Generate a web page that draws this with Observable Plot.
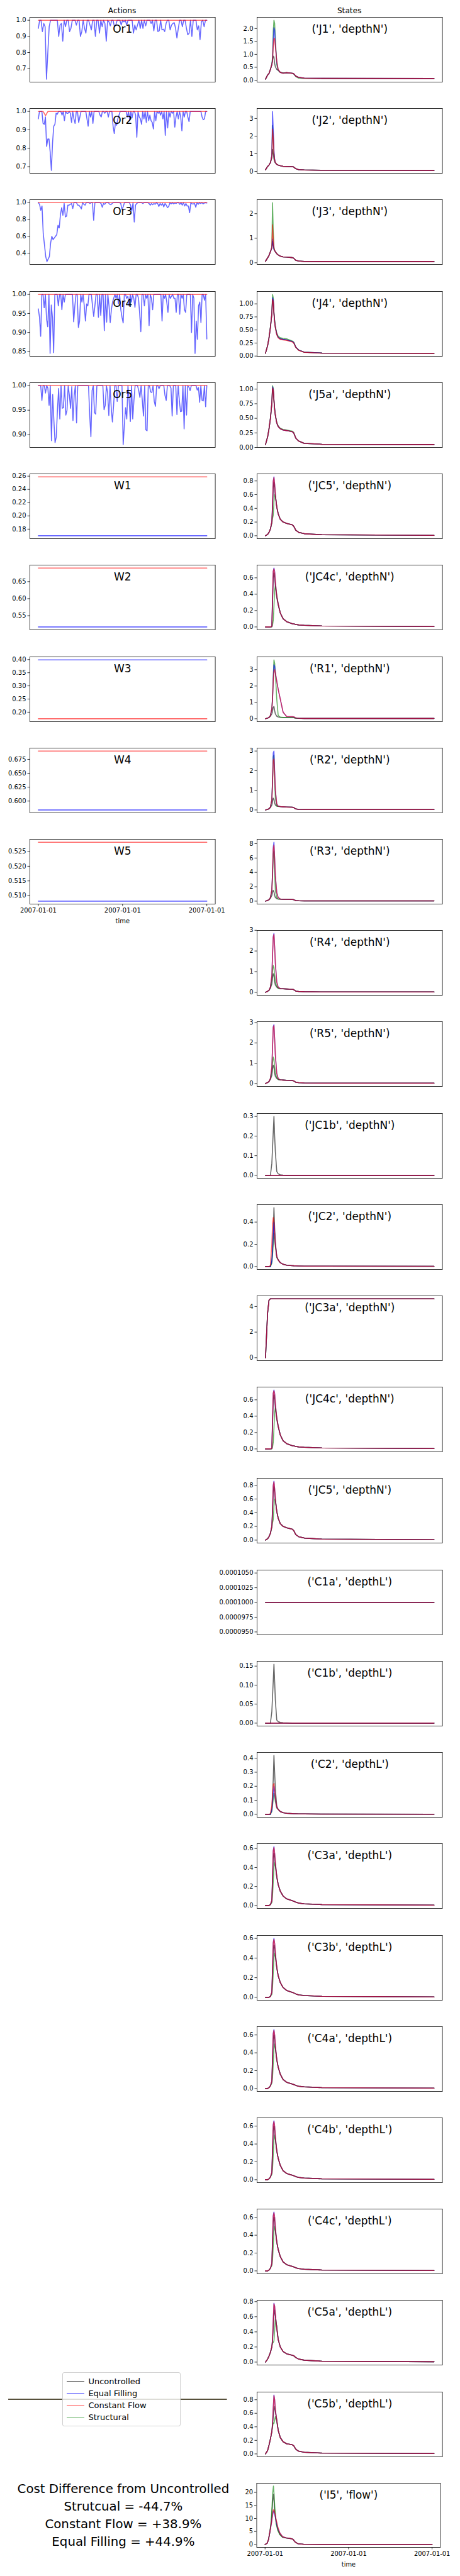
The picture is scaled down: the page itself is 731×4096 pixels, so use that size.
<!DOCTYPE html>
<html><head><meta charset="utf-8">
<script src="https://cdn.jsdelivr.net/npm/d3@7"></script>
<script src="https://cdn.jsdelivr.net/npm/@observablehq/plot@0.6"></script>
<style>
body{margin:0;background:#fff;}
#root{position:relative;width:731px;height:4096px;font-family:"DejaVu Sans",sans-serif;color:#000;overflow:hidden;}
.cell{position:absolute;}
.ttl{position:absolute;font-size:12.2px;transform:translate(-50%,-50%);white-space:nowrap;}
.legend{position:absolute;border:0.8px solid #d0d0d0;border-radius:3px;background:rgba(255,255,255,0.8);box-sizing:border-box;}
.legend .row{display:flex;align-items:center;white-space:nowrap;}
.legend .sw{display:inline-block;height:0;border-top:1.5px solid;margin-right:6px;}
.cost{position:absolute;text-align:center;white-space:nowrap;transform:translateX(-50%);}
</style></head><body><div id="root"></div>
<script>
// ---------------- data ----------------
const STEP_END = 239;
const stateT = [0,3,5,7,9,10,11,12,13,14,16,18,21,25,30,38,40,43,47,55,80,239];
const xTickSteps = [0, 119.5, 239];
const xTickLabels = ["2007-01-01","2007-01-01","2007-01-01"];
const seriesNames = ["Uncontrolled","Equal Filling","Constant Flow","Structural"];
const seriesColors = ["#000000","#0000ff","#ff0000","#008000"];
const drawOrder = [0,3,1,2];
const legendLineOrder = [0,1,2,3];
const costLines = ["Cost Difference from Uncontrolled","Strutcual = -44.7%","Constant Flow = +38.9%","Equal Filling = +44.9%"];

const actionLabels = ["Or1","Or2","Or3","Or4","Or5","W1","W2","W3","W4","W5"];
const actionTicks = [
 ["0.7","0.8","0.9","1.0"],["0.7","0.8","0.9","1.0"],["0.4","0.6","0.8","1.0"],
 ["0.85","0.90","0.95","1.00"],["0.90","0.95","1.00"],
 ["0.18","0.20","0.22","0.24","0.26"],["0.55","0.60","0.65"],
 ["0.20","0.25","0.30","0.35","0.40"],["0.600","0.625","0.650","0.675"],
 ["0.510","0.515","0.520","0.525"]];

const Or1_eq = [0.95,1.0,1.0,0.93,0.98,0.96,0.635,0.80,0.96,1.0,1.0,1.0,1.0,1.0,1.0,0.90,0.97,0.98,0.87,1.0,0.96,1.0,1.0,0.93,0.95,1.0,1.0,1.0,0.97,1.0,1.0,0.90,0.93,1.0,0.95,0.92,1.0,1.0,0.97,0.94,1.0,1.0,0.90,1.0,1.0,0.92,1.0,0.96,1.0,0.98,0.87,1.0,0.99,0.965,1.0,1.0,0.96,0.97,1.0,1.0,1.0,0.97,1.0,0.99,1.0,0.97,1.0,1.0,1.0,1.0,0.92,0.97,0.94,0.97,1.0,0.95,1.0,0.95,1.0,0.965,1.0,1.0,1.0,0.98,1.0,0.935,1.0,1.0,0.93,0.935,1.0,0.94,0.945,0.93,0.98,1.0,1.0,0.94,0.97,0.98,0.985,0.95,0.89,0.95,1.0,1.0,0.96,1.0,1.0,0.95,0.91,0.92,1.0,0.90,1.0,1.0,1.0,0.94,0.965,0.88,0.99,1.0,0.96,1.0,1.0];
const Or1_cf = [1.0,1.0];
const Or2_eq = [0.96,1.0,1.0,1.0,0.935,0.93,0.97,0.81,0.85,0.85,0.78,0.68,0.83,0.92,0.93,0.99,0.985,1.0,1.0,1.0,0.98,1.0,0.95,1.0,0.99,0.99,1.0,0.99,0.94,1.0,0.96,0.935,1.0,1.0,0.94,0.97,1.0,1.0,1.0,1.0,1.0,0.96,0.92,1.0,0.97,1.0,0.935,1.0,1.0,1.0,1.0,1.0,0.98,0.97,1.0,1.0,0.99,1.0,1.0,0.97,1.0,1.0,1.0,0.92,0.88,0.94,0.925,0.96,0.98,1.0,1.0,1.0,1.0,1.0,1.0,0.97,1.0,0.95,1.0,0.965,1.0,1.0,0.98,0.86,1.0,0.97,0.96,0.93,1.0,0.96,1.0,0.94,1.0,0.95,0.98,0.95,0.94,0.905,1.0,0.95,1.0,0.99,1.0,0.98,1.0,0.96,1.0,0.87,1.0,0.91,1.0,0.97,1.0,0.99,1.0,0.915,0.97,1.0,0.96,1.0,0.97,0.895,1.0,0.97,1.0,1.0,0.97,0.945,1.0,1.0,1.0,1.0,1.0,1.0,1.0,1.0,1.0,1.0,0.97,0.955,0.96,1.0,1.0];
const Or2_cf = [1.0,1.0,1.0,0.977,1.0,1.0,1.0,1.0,1.0,1.0,1.0,1.0,1.0,1.0,1.0,1.0,1.0,1.0,1.0,1.0,1.0,1.0,1.0,1.0,1.0,1.0,1.0,1.0,1.0,1.0,1.0,1.0,1.0,1.0,1.0,1.0,1.0,1.0,1.0,1.0,1.0,1.0,1.0,1.0,1.0,1.0,1.0,1.0,1.0,1.0,1.0,1.0,1.0,1.0,1.0,1.0,1.0,1.0,1.0,1.0,1.0,1.0,1.0,1.0,1.0,1.0,1.0,1.0,1.0,1.0,1.0];
const Or3_eq = [1.0,0.98,0.91,0.96,0.63,0.50,0.36,0.30,0.33,0.36,0.52,0.60,0.56,0.58,0.60,0.62,0.73,0.70,0.86,0.94,0.85,0.99,0.83,0.84,0.97,0.97,0.98,0.99,0.93,1.0,1.0,1.0,0.97,0.97,0.95,0.925,1.0,0.98,0.97,1.0,1.0,1.0,0.99,1.0,1.0,0.79,1.0,1.0,1.0,1.0,1.0,0.99,0.945,0.99,0.98,1.0,1.0,1.0,0.98,0.975,0.99,1.0,1.0,1.0,1.0,1.0,1.0,0.99,0.92,0.95,1.0,1.0,1.0,1.0,1.0,0.97,0.90,1.0,0.77,0.97,0.99,1.0,1.0,1.0,1.0,0.99,1.0,1.0,1.0,1.0,0.99,0.97,0.99,0.975,0.99,0.98,1.0,0.99,0.955,0.99,0.97,0.99,0.95,0.99,0.97,0.94,0.955,1.0,0.985,1.0,0.985,0.995,0.99,1.0,1.0,0.98,1.0,0.97,1.0,0.96,0.99,0.96,0.96,0.88,1.0,0.985,0.985,0.99,0.945,1.0,0.98,1.0,0.99,1.0,0.985,0.995,1.0,0.995];
const Or3_cf = [1.0,1.0];
const Or4_eq = [0.962,0.94,0.89,1.0,1.0,0.965,1.0,0.935,0.915,1.0,0.845,0.972,0.94,0.847,1.0,1.0,1.0,0.97,1.0,1.0,0.96,1.0,0.98,1.0,1.0,1.0,1.0,1.0,1.0,1.0,0.928,0.97,1.0,1.0,0.913,0.93,1.0,0.98,1.0,0.97,0.93,0.975,0.97,1.0,1.0,1.0,0.97,0.942,0.97,1.0,1.0,0.94,1.0,0.945,1.0,1.0,0.905,1.0,0.927,1.0,0.97,0.926,0.96,0.98,0.99,1.0,0.99,1.0,0.975,1.0,0.96,0.94,0.925,1.0,1.0,0.99,0.995,0.97,1.0,0.98,1.0,0.99,0.966,1.0,1.0,0.99,0.95,0.902,1.0,1.0,0.97,1.0,0.99,1.0,0.918,1.0,0.99,0.96,1.0,1.0,1.0,1.0,1.0,1.0,1.0,0.93,1.0,0.99,1.0,0.98,0.953,1.0,0.99,0.995,1.0,0.99,0.99,0.953,1.0,1.0,0.948,1.0,0.99,1.0,0.96,0.953,1.0,1.0,1.0,1.0,0.90,1.0,0.99,0.845,0.93,0.882,0.97,0.98,0.926,1.0,1.0,0.985,1.0,0.883];
const Or4_cf = [1.0,1.0];
const Or5_eq = [1.0,1.0,1.0,0.97,1.0,1.0,0.985,1.0,0.995,0.96,1.0,0.888,0.982,0.93,0.884,0.895,0.95,0.994,0.932,1.0,0.954,0.955,1.0,0.94,0.95,1.0,0.98,0.954,0.998,0.929,0.98,1.0,0.924,1.0,1.0,1.0,1.0,1.0,1.0,1.0,1.0,1.0,1.0,0.94,0.896,0.99,1.0,0.945,0.942,1.0,1.0,1.0,1.0,1.0,1.0,0.951,0.96,1.0,0.985,0.939,1.0,0.955,0.926,0.96,1.0,1.0,0.968,1.0,1.0,1.0,1.0,0.88,0.92,0.955,0.932,1.0,0.97,0.927,1.0,0.932,0.97,1.0,1.0,1.0,0.99,0.976,1.0,0.97,0.938,1.0,0.91,0.908,1.0,1.0,0.987,0.986,1.0,0.968,0.958,1.0,1.0,0.994,1.0,1.0,1.0,1.0,0.98,0.97,1.0,1.0,1.0,0.995,0.938,1.0,1.0,1.0,0.941,1.0,0.97,0.947,0.948,1.0,0.912,1.0,0.94,1.0,0.997,0.99,1.0,1.0,1.0,1.0,1.0,0.991,0.996,0.966,1.0,0.97,0.969,1.0,0.957,1.0];
const Or5_cf = [1.0,1.0];
const W1_eq = [0.170,0.170], W1_cf = [0.259,0.259];
const W2_eq = [0.517,0.517], W2_cf = [0.690,0.690];
const W3_eq = [0.399,0.399], W3_cf = [0.175,0.175];
const W4_eq = [0.584,0.584], W4_cf = [0.690,0.690];
const W5_eq = [0.5081,0.5081], W5_cf = [0.5282,0.5282];
const actionEq = [Or1_eq,Or2_eq,Or3_eq,Or4_eq,Or5_eq,W1_eq,W2_eq,W3_eq,W4_eq,W5_eq];
const actionCf = [Or1_cf,Or2_cf,Or3_cf,Or4_cf,Or5_cf,W1_cf,W2_cf,W3_cf,W4_cf,W5_cf];

const stateLabels = ["('J1', 'depthN')","('J2', 'depthN')","('J3', 'depthN')","('J4', 'depthN')","('J5a', 'depthN')","('JC5', 'depthN')","('JC4c', 'depthN')","('R1', 'depthN')","('R2', 'depthN')","('R3', 'depthN')","('R4', 'depthN')","('R5', 'depthN')","('JC1b', 'depthN')","('JC2', 'depthN')","('JC3a', 'depthN')","('JC4c', 'depthN')","('JC5', 'depthN')","('C1a', 'depthL')","('C1b', 'depthL')","('C2', 'depthL')","('C3a', 'depthL')","('C3b', 'depthL')","('C4a', 'depthL')","('C4b', 'depthL')","('C4c', 'depthL')","('C5a', 'depthL')","('C5b', 'depthL')","('I5', 'flow')"];
const stateTicks = [
 ["0.0","0.5","1.0","1.5","2.0"],["0","1","2","3"],["0","1","2"],["0.00","0.25","0.50","0.75","1.00"],
 ["0.00","0.25","0.50","0.75","1.00"],["0.0","0.2","0.4","0.6","0.8"],["0.0","0.2","0.4","0.6"],["0","1","2","3"],
 ["0","1","2","3"],["0","2","4","6","8"],["0","1","2","3"],["0","1","2","3"],
 ["0.0","0.1","0.2","0.3"],["0.0","0.2","0.4"],["0","2","4"],["0.0","0.2","0.4","0.6"],
 ["0.0","0.2","0.4","0.6","0.8"],["0.0000950","0.0000975","0.0001000","0.0001025","0.0001050"],["0.00","0.05","0.10","0.15"],["0.0","0.1","0.2","0.3","0.4"],
 ["0.0","0.2","0.4","0.6"],["0.0","0.2","0.4","0.6"],["0.0","0.2","0.4","0.6"],["0.0","0.2","0.4","0.6"],
 ["0.0","0.2","0.4","0.6"],["0.0","0.2","0.4","0.6","0.8"],["0.0","0.2","0.4","0.6","0.8"],["0","5","10","15","20"]];

// each state: [Uncontrolled, Equal Filling, Constant Flow, Structural] at stateT (or [start,end] if 2 values)
const J1 = [
 [0.04,0.2,0.26,0.42,0.6,0.75,0.93,0.9,0.65,0.52,0.42,0.38,0.31,0.28,0.29,0.27,0.25,0.16,0.11,0.08,0.07,0.065],
 [0.04,0.2,0.26,0.42,0.6,0.8,1.5,2.03,1.95,1.4,0.7,0.4,0.3,0.27,0.29,0.27,0.25,0.16,0.11,0.08,0.07,0.065],
 [0.04,0.2,0.26,0.42,0.6,0.75,1.3,1.6,1.62,1.3,0.75,0.42,0.3,0.27,0.29,0.27,0.25,0.16,0.11,0.08,0.07,0.065],
 [0.04,0.2,0.26,0.42,0.62,0.9,1.9,2.32,2.2,1.6,0.6,0.38,0.3,0.28,0.29,0.27,0.24,0.14,0.08,0.07,0.065,0.06]];
const J2 = [
 [0.09,0.28,0.37,0.5,0.75,1.25,1.0,0.7,0.55,0.48,0.4,0.36,0.32,0.29,0.28,0.27,0.25,0.15,0.1,0.08,0.065,0.06],
 [0.09,0.28,0.37,0.5,0.9,3.4,2.4,1.2,0.7,0.5,0.4,0.36,0.32,0.29,0.28,0.27,0.25,0.15,0.1,0.08,0.065,0.06],
 [0.09,0.28,0.37,0.5,0.85,2.4,1.9,1.0,0.65,0.5,0.4,0.36,0.32,0.29,0.28,0.27,0.25,0.15,0.1,0.08,0.065,0.06],
 [0.09,0.28,0.37,0.5,0.9,2.6,2.0,1.0,0.65,0.5,0.4,0.36,0.32,0.29,0.28,0.27,0.25,0.15,0.1,0.08,0.065,0.06]];
const J3 = [
 [0.06,0.2,0.3,0.45,0.6,0.88,0.7,0.55,0.5,0.45,0.37,0.32,0.27,0.24,0.23,0.21,0.19,0.1,0.07,0.055,0.05,0.05],
 [0.06,0.2,0.3,0.45,0.6,0.97,0.75,0.55,0.5,0.45,0.37,0.32,0.27,0.24,0.23,0.21,0.19,0.1,0.07,0.055,0.05,0.05],
 [0.06,0.2,0.3,0.45,0.62,1.55,0.95,0.6,0.5,0.45,0.37,0.32,0.27,0.24,0.23,0.21,0.19,0.1,0.07,0.055,0.05,0.05],
 [0.06,0.2,0.3,0.45,0.65,2.45,1.3,0.65,0.5,0.45,0.37,0.32,0.27,0.24,0.23,0.21,0.19,0.1,0.07,0.055,0.05,0.05]];
const J4 = [
 [0.055,0.2,0.35,0.55,0.8,1.08,1.05,0.82,0.66,0.55,0.42,0.36,0.33,0.32,0.31,0.28,0.26,0.17,0.115,0.075,0.058,0.053],
 [0.055,0.2,0.35,0.55,0.8,1.12,1.08,0.83,0.66,0.55,0.42,0.36,0.33,0.32,0.31,0.28,0.26,0.17,0.115,0.075,0.058,0.053],
 [0.055,0.2,0.35,0.55,0.8,1.09,1.04,0.81,0.65,0.54,0.41,0.35,0.32,0.31,0.3,0.27,0.25,0.165,0.11,0.072,0.056,0.052],
 [0.055,0.2,0.35,0.56,0.82,1.18,1.12,0.85,0.68,0.57,0.44,0.38,0.35,0.34,0.33,0.29,0.27,0.17,0.115,0.075,0.058,0.053]];
const J5a = [
 [0.05,0.18,0.32,0.5,0.75,1.0,0.98,0.8,0.65,0.55,0.42,0.36,0.32,0.3,0.29,0.27,0.25,0.16,0.11,0.07,0.055,0.05],
 [0.05,0.18,0.32,0.5,0.75,1.04,1.0,0.82,0.66,0.55,0.42,0.36,0.32,0.3,0.29,0.27,0.25,0.16,0.11,0.07,0.055,0.05],
 [0.05,0.18,0.32,0.5,0.75,1.02,0.99,0.81,0.65,0.55,0.42,0.36,0.32,0.3,0.29,0.27,0.25,0.16,0.11,0.07,0.055,0.05],
 [0.05,0.18,0.32,0.5,0.76,1.06,1.02,0.82,0.66,0.56,0.43,0.37,0.33,0.31,0.3,0.28,0.26,0.16,0.11,0.07,0.055,0.05]];
const JC5 = [
 [0,0.02,0.05,0.1,0.2,0.4,0.7,0.78,0.7,0.58,0.42,0.32,0.24,0.2,0.18,0.16,0.14,0.08,0.05,0.03,0.015,0.005],
 [0,0.02,0.05,0.1,0.2,0.45,0.8,0.86,0.75,0.6,0.42,0.32,0.24,0.2,0.18,0.16,0.14,0.08,0.05,0.03,0.015,0.005],
 [0,0.02,0.05,0.1,0.2,0.45,0.79,0.85,0.75,0.6,0.42,0.32,0.24,0.2,0.18,0.16,0.14,0.08,0.05,0.03,0.015,0.005],
 [0,0.02,0.05,0.1,0.18,0.25,0.3,0.5,0.6,0.58,0.42,0.32,0.24,0.2,0.18,0.16,0.14,0.08,0.05,0.03,0.015,0.005]];
const JC4c = [
 [0,0,0,0,0.005,0.3,0.6,0.66,0.6,0.5,0.36,0.27,0.17,0.1,0.065,0.04,0.037,0.03,0.025,0.02,0.012,0.005],
 [0,0,0,0,0.005,0.35,0.68,0.72,0.68,0.55,0.38,0.28,0.17,0.1,0.065,0.04,0.037,0.03,0.025,0.02,0.012,0.005],
 [0,0,0,0,0.005,0.35,0.68,0.71,0.67,0.55,0.38,0.28,0.17,0.1,0.065,0.04,0.037,0.03,0.025,0.02,0.012,0.005],
 [0,0,0,0,0,0.02,0.08,0.25,0.45,0.5,0.38,0.28,0.17,0.1,0.065,0.04,0.037,0.03,0.025,0.02,0.012,0.005]];
const R1 = [
 [0,0.04,0.08,0.15,0.3,0.45,0.7,0.75,0.5,0.3,0.15,0.11,0.09,0.08,0.08,0.07,0.06,0.03,0.025,0.02,0.02,0.02],
 [0,0.04,0.08,0.2,0.6,1.2,2.4,3.3,3.2,2.8,2.3,1.8,1.2,0.4,0.14,0.13,0.12,0.05,0.03,0.02,0.02,0.02],
 [0,0.04,0.08,0.2,0.6,1.2,2.3,2.9,3.0,2.8,2.3,1.8,1.2,0.4,0.14,0.13,0.12,0.05,0.03,0.02,0.02,0.02],
 [0,0.04,0.08,0.2,0.6,1.3,2.6,3.6,3.4,2.8,1.2,0.2,0.1,0.08,0.08,0.07,0.06,0.03,0.025,0.02,0.02,0.02]];
const R2 = [
 [0,0.03,0.06,0.12,0.25,0.4,0.6,0.55,0.35,0.25,0.2,0.18,0.17,0.16,0.15,0.14,0.12,0.05,0.03,0.02,0.02,0.02],
 [0,0.03,0.06,0.15,0.5,1.5,2.9,3.0,2.0,1.0,0.3,0.2,0.17,0.16,0.15,0.14,0.12,0.05,0.03,0.02,0.02,0.02],
 [0,0.03,0.06,0.15,0.5,1.4,2.5,2.6,1.9,1.0,0.3,0.2,0.17,0.16,0.15,0.14,0.12,0.05,0.03,0.02,0.02,0.02],
 [0,0.03,0.06,0.15,0.5,1.5,2.7,2.8,1.5,0.6,0.2,0.18,0.17,0.16,0.15,0.14,0.12,0.05,0.03,0.02,0.02,0.02]];
const R3 = [
 [0,0.1,0.2,0.4,0.8,1.2,1.5,1.3,0.8,0.5,0.35,0.3,0.28,0.26,0.25,0.23,0.2,0.08,0.05,0.03,0.03,0.03],
 [0,0.1,0.2,0.5,1.5,4.0,7.5,8.2,6.0,3.5,1.2,0.5,0.3,0.26,0.25,0.23,0.2,0.08,0.05,0.03,0.03,0.03],
 [0,0.1,0.2,0.5,1.5,4.0,7.2,7.8,6.0,3.5,1.2,0.5,0.3,0.26,0.25,0.23,0.2,0.08,0.05,0.03,0.03,0.03],
 [0,0.1,0.2,0.5,1.5,3.5,6.5,7.0,4.0,1.5,0.5,0.3,0.28,0.26,0.25,0.23,0.2,0.08,0.05,0.03,0.03,0.03]];
const R4 = [
 [0,0.05,0.1,0.2,0.4,0.7,0.9,0.8,0.5,0.35,0.25,0.2,0.18,0.17,0.16,0.15,0.13,0.06,0.04,0.03,0.02,0.02],
 [0,0.05,0.1,0.25,0.8,1.8,2.7,2.85,2.2,1.4,0.5,0.25,0.18,0.17,0.16,0.15,0.13,0.06,0.04,0.03,0.02,0.02],
 [0,0.05,0.1,0.25,0.8,1.8,2.65,2.8,2.2,1.4,0.5,0.25,0.18,0.17,0.16,0.15,0.13,0.06,0.04,0.03,0.02,0.02],
 [0,0.05,0.1,0.25,0.6,1.0,1.3,1.2,0.8,0.5,0.3,0.2,0.18,0.17,0.16,0.15,0.13,0.06,0.04,0.03,0.02,0.02]];
const R5 = [
 [0,0.05,0.1,0.2,0.4,0.7,0.9,0.8,0.5,0.35,0.25,0.2,0.18,0.17,0.16,0.15,0.13,0.06,0.04,0.03,0.02,0.02],
 [0,0.05,0.1,0.25,0.8,1.8,2.8,2.9,2.2,1.4,0.5,0.25,0.18,0.17,0.16,0.15,0.13,0.06,0.04,0.03,0.02,0.02],
 [0,0.05,0.1,0.25,0.8,1.8,2.75,2.85,2.2,1.4,0.5,0.25,0.18,0.17,0.16,0.15,0.13,0.06,0.04,0.03,0.02,0.02],
 [0,0.05,0.1,0.25,0.6,1.0,1.3,1.2,0.8,0.5,0.3,0.2,0.18,0.17,0.16,0.15,0.13,0.06,0.04,0.03,0.02,0.02]];
const JC1b = [
 [0,0,0,0,0.06,0.14,0.22,0.30,0.2,0.12,0.02,0.008,0.003,0.001,0,0,0,0,0,0,0,0],
 [0,0],[0,0],[0,0]];
const JC2 = [
 [0,0,0,0,0.05,0.15,0.3,0.53,0.35,0.22,0.09,0.06,0.035,0.02,0.012,0.008,0.007,0.006,0.005,0.004,0.003,0.002],
 [0,0,0,0,0.05,0.15,0.28,0.4,0.3,0.2,0.09,0.06,0.035,0.02,0.012,0.008,0.007,0.006,0.005,0.004,0.003,0.002],
 [0,0,0,0.01,0.2,0.38,0.44,0.4,0.3,0.2,0.09,0.06,0.035,0.02,0.012,0.008,0.007,0.006,0.005,0.004,0.003,0.002],
 [0,0,0,0,0.03,0.1,0.2,0.3,0.25,0.18,0.08,0.06,0.035,0.02,0.012,0.008,0.007,0.006,0.005,0.004,0.003,0.002]];
const JC3a = [
 [0,3.5,4.5,4.6,4.6,4.6,4.6,4.6,4.6,4.6,4.6,4.6,4.6,4.6,4.6,4.6,4.6,4.6,4.6,4.6,4.6,4.6],
 [0,3.5,4.5,4.6,4.6,4.6,4.6,4.6,4.6,4.6,4.6,4.6,4.6,4.6,4.6,4.6,4.6,4.6,4.6,4.6,4.6,4.6],
 [0,3.5,4.5,4.6,4.6,4.6,4.6,4.6,4.6,4.6,4.6,4.6,4.6,4.6,4.6,4.6,4.6,4.6,4.6,4.6,4.6,4.6],
 [0,3.5,4.5,4.6,4.6,4.6,4.6,4.6,4.6,4.6,4.6,4.6,4.6,4.6,4.6,4.6,4.6,4.6,4.6,4.6,4.6,4.6]];
const JC4c_b = [
 [0,0,0,0,0.005,0.3,0.6,0.66,0.6,0.5,0.36,0.27,0.17,0.1,0.065,0.04,0.037,0.03,0.025,0.02,0.012,0.005],
 [0,0,0,0,0.005,0.35,0.68,0.72,0.68,0.55,0.38,0.28,0.17,0.1,0.065,0.04,0.037,0.03,0.025,0.02,0.012,0.005],
 [0,0,0,0,0.005,0.35,0.68,0.71,0.67,0.55,0.38,0.28,0.17,0.1,0.065,0.04,0.037,0.03,0.025,0.02,0.012,0.005],
 [0,0,0,0,0,0.02,0.08,0.25,0.45,0.5,0.38,0.28,0.17,0.1,0.065,0.04,0.037,0.03,0.025,0.02,0.012,0.005]];
const JC5_b = [
 [0,0.02,0.05,0.1,0.2,0.4,0.7,0.78,0.7,0.58,0.42,0.32,0.24,0.2,0.18,0.16,0.14,0.08,0.05,0.03,0.015,0.005],
 [0,0.02,0.05,0.1,0.2,0.45,0.8,0.86,0.75,0.6,0.42,0.32,0.24,0.2,0.18,0.16,0.14,0.08,0.05,0.03,0.015,0.005],
 [0,0.02,0.05,0.1,0.2,0.45,0.79,0.85,0.75,0.6,0.42,0.32,0.24,0.2,0.18,0.16,0.14,0.08,0.05,0.03,0.015,0.005],
 [0,0.02,0.05,0.1,0.18,0.25,0.3,0.5,0.6,0.58,0.42,0.32,0.24,0.2,0.18,0.16,0.14,0.08,0.05,0.03,0.015,0.005]];
const C1a = [[0.0001,0.0001],[0.0001,0.0001],[0.0001,0.0001],[0.0001,0.0001]];
const C1b = [
 [0,0,0,0,0.03,0.07,0.11,0.155,0.11,0.06,0.008,0.004,0.002,0.001,0.0005,0,0,0,0,0,0,0],
 [0,0],[0,0],[0,0]];
const C2 = [
 [0,0,0,0,0.04,0.13,0.25,0.42,0.3,0.18,0.06,0.035,0.02,0.012,0.007,0.005,0.004,0.004,0.003,0.003,0.002,0.001],
 [0,0,0,0,0.03,0.08,0.15,0.2,0.16,0.11,0.05,0.035,0.02,0.012,0.007,0.005,0.004,0.004,0.003,0.003,0.002,0.001],
 [0,0,0,0.005,0.06,0.15,0.21,0.22,0.17,0.12,0.05,0.035,0.02,0.012,0.007,0.005,0.004,0.004,0.003,0.003,0.002,0.001],
 [0,0,0,0,0.02,0.06,0.11,0.15,0.13,0.09,0.045,0.035,0.02,0.012,0.007,0.005,0.004,0.004,0.003,0.003,0.002,0.001]];
const C3a = [
 [0,0,0,0.01,0.05,0.25,0.5,0.55,0.5,0.42,0.3,0.22,0.15,0.1,0.07,0.05,0.045,0.035,0.025,0.018,0.01,0.004],
 [0,0,0,0.01,0.05,0.3,0.58,0.62,0.55,0.45,0.31,0.22,0.15,0.1,0.07,0.05,0.045,0.035,0.025,0.018,0.01,0.004],
 [0,0,0,0.01,0.05,0.3,0.57,0.61,0.55,0.45,0.31,0.22,0.15,0.1,0.07,0.05,0.045,0.035,0.025,0.018,0.01,0.004],
 [0,0,0,0.01,0.03,0.1,0.25,0.4,0.45,0.42,0.3,0.22,0.15,0.1,0.07,0.05,0.045,0.035,0.025,0.018,0.01,0.004]];
const C3b = [
 [0,0,0,0.01,0.05,0.25,0.48,0.53,0.5,0.42,0.3,0.22,0.15,0.1,0.07,0.05,0.045,0.035,0.025,0.018,0.01,0.004],
 [0,0,0,0.01,0.05,0.3,0.56,0.6,0.55,0.45,0.31,0.22,0.15,0.1,0.07,0.05,0.045,0.035,0.025,0.018,0.01,0.004],
 [0,0,0,0.01,0.05,0.3,0.55,0.59,0.55,0.45,0.31,0.22,0.15,0.1,0.07,0.05,0.045,0.035,0.025,0.018,0.01,0.004],
 [0,0,0,0.01,0.03,0.1,0.25,0.4,0.45,0.42,0.3,0.22,0.15,0.1,0.07,0.05,0.045,0.035,0.025,0.018,0.01,0.004]];
const C4a = [
 [0,0,0.01,0.03,0.08,0.3,0.55,0.6,0.55,0.45,0.32,0.24,0.16,0.1,0.07,0.05,0.045,0.035,0.025,0.018,0.01,0.004],
 [0,0,0.01,0.03,0.08,0.35,0.62,0.66,0.6,0.48,0.33,0.24,0.16,0.1,0.07,0.05,0.045,0.035,0.025,0.018,0.01,0.004],
 [0,0,0.01,0.03,0.08,0.35,0.61,0.65,0.6,0.48,0.33,0.24,0.16,0.1,0.07,0.05,0.045,0.035,0.025,0.018,0.01,0.004],
 [0,0,0.01,0.03,0.06,0.12,0.28,0.45,0.5,0.45,0.32,0.24,0.16,0.1,0.07,0.05,0.045,0.035,0.025,0.018,0.01,0.004]];
const C4b = [
 [0,0,0.01,0.03,0.08,0.3,0.55,0.6,0.55,0.45,0.32,0.24,0.16,0.1,0.07,0.05,0.045,0.035,0.025,0.018,0.01,0.004],
 [0,0,0.01,0.03,0.08,0.35,0.62,0.66,0.6,0.48,0.33,0.24,0.16,0.1,0.07,0.05,0.045,0.035,0.025,0.018,0.01,0.004],
 [0,0,0.01,0.03,0.08,0.35,0.61,0.65,0.6,0.48,0.33,0.24,0.16,0.1,0.07,0.05,0.045,0.035,0.025,0.018,0.01,0.004],
 [0,0,0.01,0.03,0.06,0.12,0.28,0.45,0.5,0.45,0.32,0.24,0.16,0.1,0.07,0.05,0.045,0.035,0.025,0.018,0.01,0.004]];
const C4c = [
 [0,0,0.01,0.03,0.08,0.3,0.55,0.6,0.55,0.45,0.32,0.24,0.16,0.1,0.07,0.05,0.045,0.035,0.025,0.018,0.01,0.004],
 [0,0,0.01,0.03,0.08,0.35,0.62,0.66,0.6,0.48,0.33,0.24,0.16,0.1,0.07,0.05,0.045,0.035,0.025,0.018,0.01,0.004],
 [0,0,0.01,0.03,0.08,0.35,0.61,0.65,0.6,0.48,0.33,0.24,0.16,0.1,0.07,0.05,0.045,0.035,0.025,0.018,0.01,0.004],
 [0,0,0.01,0.03,0.06,0.12,0.28,0.45,0.5,0.45,0.32,0.24,0.16,0.1,0.07,0.05,0.045,0.035,0.025,0.018,0.01,0.004]];
const C5a = [
 [0,0.04,0.08,0.13,0.2,0.28,0.45,0.62,0.69,0.62,0.45,0.3,0.2,0.14,0.11,0.09,0.085,0.06,0.04,0.025,0.012,0.004],
 [0,0.04,0.08,0.13,0.2,0.3,0.55,0.78,0.74,0.62,0.45,0.3,0.2,0.14,0.11,0.09,0.085,0.06,0.04,0.025,0.012,0.004],
 [0,0.04,0.08,0.13,0.2,0.3,0.55,0.77,0.74,0.62,0.45,0.3,0.2,0.14,0.11,0.09,0.085,0.06,0.04,0.025,0.012,0.004],
 [0,0.04,0.08,0.13,0.2,0.25,0.26,0.28,0.42,0.56,0.48,0.3,0.2,0.14,0.11,0.09,0.085,0.06,0.04,0.025,0.012,0.004]];
const C5b = [
 [0,0.05,0.13,0.22,0.33,0.42,0.55,0.65,0.7,0.62,0.5,0.35,0.24,0.18,0.15,0.135,0.12,0.07,0.04,0.025,0.012,0.005],
 [0,0.05,0.13,0.22,0.33,0.45,0.68,0.87,0.8,0.65,0.5,0.35,0.24,0.18,0.15,0.135,0.12,0.07,0.04,0.025,0.012,0.005],
 [0,0.05,0.13,0.22,0.33,0.45,0.67,0.86,0.8,0.65,0.5,0.35,0.24,0.18,0.15,0.135,0.12,0.07,0.04,0.025,0.012,0.005],
 [0,0.05,0.13,0.22,0.33,0.4,0.46,0.45,0.5,0.55,0.48,0.35,0.24,0.18,0.15,0.135,0.12,0.07,0.04,0.025,0.012,0.005]];
const I5 = [
 [0,0.5,2,5,9,13,17,19.3,16,12,8,6,4,2.8,2.5,2.2,2.0,1.0,0.3,0.1,0.05,0.05],
 [0,0.5,2,5,8,10,11.5,12.8,12.5,11.5,9,6.5,4.5,3,2.6,2.2,2.0,1.0,0.3,0.1,0.05,0.05],
 [0,0.5,2,5,8,10,12,13.3,13,12,9.5,7,4.5,3,2.6,2.2,2.0,1.0,0.3,0.1,0.05,0.05],
 [0,0.5,2,5,10,15,20,22.4,19,14,8,5.5,3.8,2.8,2.5,2.2,2.0,1.0,0.3,0.1,0.05,0.05]];
const stateData = [J1,J2,J3,J4,J5a,JC5,JC4c,R1,R2,R3,R4,R5,JC1b,JC2,JC3a,JC4c_b,JC5_b,C1a,C1b,C2,C3a,C3b,C4a,C4b,C4c,C5a,C5b,I5];

// ---------------- layout (reference px * 0.731) ----------------
const S = 0.731;
const PW = 403*S, PH = 141*S;
const LEFT_X = 64*S, RIGHT_X = 558*S;
const rowTop = i => (37 + i*198.65)*S;
const root = document.getElementById("root");
const FONT = "DejaVu Sans";

function uniformTimes(n){ return d3.range(n).map(i => i*STEP_END/(n-1)); }

function addPanel({x0, y0, ml, series, ticks, label, xAxis}){
  const mr = xAxis ? 32 : 4, mt = 4, mb = xAxis ? 36 : 4;
  const all = series.flatMap(s => s.v);
  const lo = d3.min(all), hi = d3.max(all);
  let pad = (hi - lo)*0.05;
  if (pad === 0) pad = Math.abs(hi)*0.055 || 0.055;
  const tickVals = ticks.map(Number);
  const tickMap = new Map(ticks.map(s => [Number(s), s]));
  const marks = [];
  for (const s of series){
    const rows = s.v.map((v,i) => ({t: s.t[i], v}));
    marks.push(Plot.line(rows, {x:"t", y:"v", stroke: s.color, strokeOpacity: 0.6, strokeWidth: 1.55}));
  }
  marks.push(Plot.frame({stroke:"black", strokeWidth:0.8}));
  marks.push(Plot.axisY({ticks: tickVals, tickFormat: d => tickMap.get(d), tickSize: 3.5, tickPadding: 2.5, fontSize: 10, strokeWidth: 0.8, label: null}));
  if (xAxis){
    marks.push(Plot.axisX({ticks: xTickSteps, tickFormat: d => xTickLabels[xTickSteps.indexOf(d)], tickSize: 3.5, tickPadding: 2.5, fontSize: 10, strokeWidth: 0.8, label: null}));
    marks.push(Plot.text(["time"], {frameAnchor:"bottom", dy: 27, fontSize: 10, fill:"black", lineAnchor:"middle"}));
  }
  marks.push(Plot.text([label], {frameAnchor:"top", dy: 19.5, fontSize: 17, fill:"black", lineAnchor:"middle"}));
  const svg = Plot.plot({
    width: ml + PW + mr, height: mt + PH + mb,
    marginLeft: ml, marginRight: mr, marginTop: mt, marginBottom: mb,
    x: {domain: [-0.05*STEP_END, 1.05*STEP_END], axis: xAxis ? undefined : null},
    y: {domain: [lo - pad, hi + pad]},
    style: {fontFamily: FONT, fontSize: "10px", background: "transparent", color: "black", overflow: "visible"},
    marks
  });
  const div = document.createElement("div");
  div.className = "cell";
  div.style.left = (x0 - ml) + "px";
  div.style.top = (y0 - mt) + "px";
  div.appendChild(svg);
  root.appendChild(div);
}

function addTitle(text, cx, cy){
  const d = document.createElement("div");
  d.className = "ttl"; d.textContent = text;
  d.style.left = cx + "px"; d.style.top = cy + "px";
  root.appendChild(d);
}
addTitle("Actions", (LEFT_X + PW/2), 22.7*S);
addTitle("States", (RIGHT_X + PW/2), 22.7*S);

actionLabels.forEach((lab, i) => {
  addPanel({
    x0: LEFT_X, y0: rowTop(i), ml: 46,
    series: [
      {t: uniformTimes(actionEq[i].length), v: actionEq[i], color: seriesColors[1]},
      {t: uniformTimes(actionCf[i].length), v: actionCf[i], color: seriesColors[2]}
    ],
    ticks: actionTicks[i], label: lab, xAxis: i === actionLabels.length - 1
  });
});

stateLabels.forEach((lab, i) => {
  const d = stateData[i];
  addPanel({
    x0: RIGHT_X, y0: rowTop(i), ml: 60,
    series: drawOrder.map(k => ({t: d[k].length === 2 ? [0, STEP_END] : stateT, v: d[k], color: seriesColors[k]})),
    ticks: stateTicks[i], label: lab, xAxis: i === stateLabels.length - 1
  });
});

// horizontal line behind the legend (four overlapping series)
const lineSvg = d3.create("svg").attr("width", 731).attr("height", 12)
  .style("position","absolute").style("left","0px").style("top", (5219*S - 6) + "px");
legendLineOrder.forEach(k => {
  lineSvg.append("line").attr("x1", 18*S).attr("x2", 493*S).attr("y1", 6).attr("y2", 6)
    .attr("stroke", seriesColors[k]).attr("stroke-opacity", 0.6).attr("stroke-width", 1.55);
});
root.appendChild(lineSvg.node());

// legend
const leg = document.createElement("div");
leg.className = "legend";
leg.style.left = (136*S) + "px"; leg.style.top = (5160*S) + "px";
leg.style.width = ((393-136)*S) + "px"; leg.style.padding = "4px 6px";
leg.style.fontSize = "13px";
seriesNames.forEach((n, k) => {
  const r = document.createElement("div"); r.className = "row";
  r.style.height = "19px";
  const sw = document.createElement("span"); sw.className = "sw";
  sw.style.width = "28px"; sw.style.borderTopColor = seriesColors[k]; sw.style.opacity = 0.6;
  r.appendChild(sw);
  const tx = document.createElement("span"); tx.textContent = n; r.appendChild(tx);
  leg.appendChild(r);
});
root.appendChild(leg);

// cost text
const cost = document.createElement("div");
cost.className = "cost";
cost.style.left = (268*S) + "px"; cost.style.top = (5396*S) + "px";
cost.style.fontSize = "19.8px"; cost.style.lineHeight = "28px";
cost.innerHTML = costLines.map(s => s.replace(/&/g,"&amp;").replace(/</g,"&lt;")).join("<br>");
root.appendChild(cost);
</script></body></html>
